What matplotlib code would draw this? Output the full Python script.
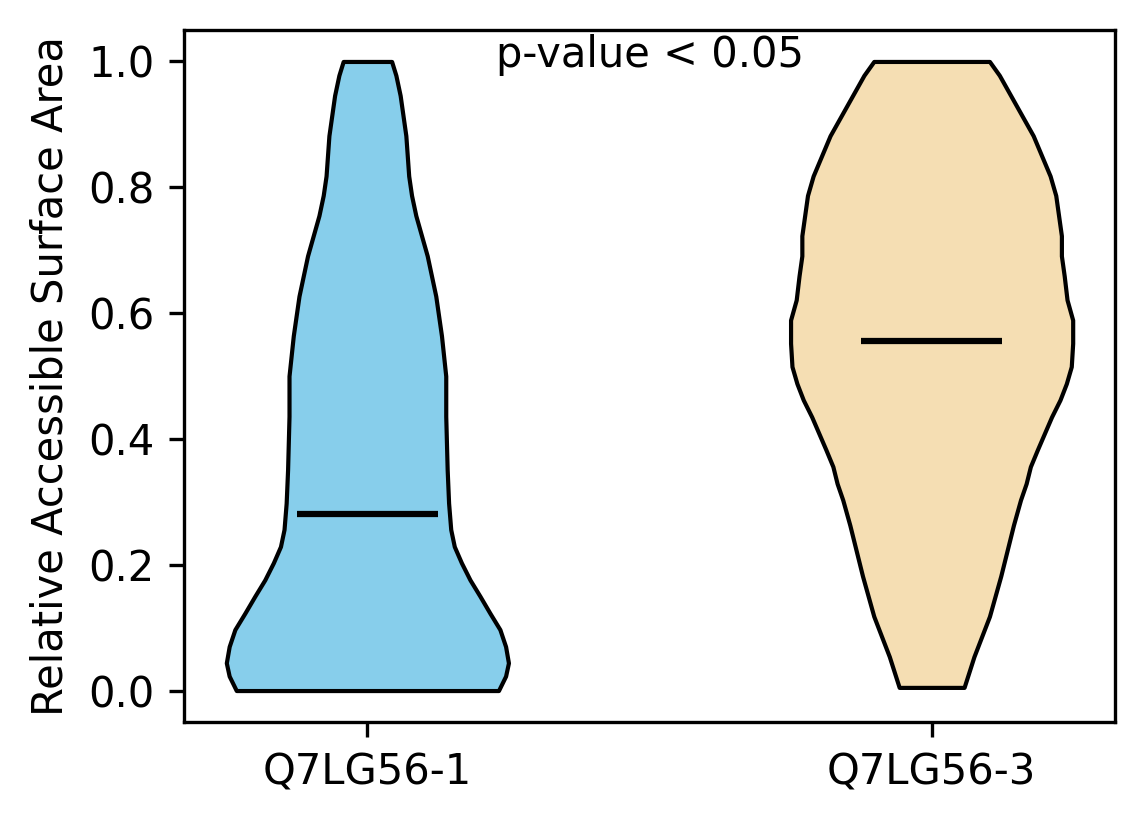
import numpy as np
import matplotlib.pyplot as plt

labels = ['Q7LG56-1', 'Q7LG56-3']
colors = ['skyblue', 'wheat']

# density profiles (value -> relative width)
left_coords = [0.0, 0.023, 0.044, 0.070, 0.097, 0.123, 0.150, 0.176, 0.203, 0.229,
               0.256, 0.298, 0.351, 0.436, 0.500, 0.564, 0.627, 0.691, 0.755, 0.787,
               0.818, 0.882, 0.946, 0.978, 1.0]
left_vals = [0.92, 0.97, 0.99, 0.97, 0.93, 0.86, 0.79, 0.72, 0.66, 0.61,
             0.585, 0.57, 0.56, 0.55, 0.55, 0.52, 0.48, 0.42, 0.34, 0.31,
             0.29, 0.27, 0.23, 0.20, 0.17]
left_mean = 0.28

right_coords = [0.005, 0.054, 0.118, 0.182, 0.263, 0.303, 0.329, 0.356, 0.383, 0.409,
                0.435, 0.462, 0.488, 0.515, 0.552, 0.589, 0.621, 0.659, 0.691, 0.723,
                0.755, 0.787, 0.818, 0.850, 0.882, 0.914, 0.946, 0.978, 1.0]
right_vals = [0.23, 0.30, 0.41, 0.49, 0.58, 0.63, 0.67, 0.70, 0.75, 0.80,
              0.85, 0.91, 0.955, 0.99, 1.0, 1.0, 0.96, 0.94, 0.92, 0.92,
              0.90, 0.88, 0.84, 0.78, 0.72, 0.64, 0.56, 0.48, 0.41]
right_mean = 0.556


def make_stats(coords, vals, mean):
    coords = np.array(coords)
    return {'coords': coords, 'vals': np.array(vals), 'mean': mean,
            'median': mean, 'min': coords.min(), 'max': coords.max()}


vpstats = [make_stats(left_coords, left_vals, left_mean),
           make_stats(right_coords, right_vals, right_mean)]

fig = plt.figure(figsize=(1144 / 300, 824 / 300), dpi=300)
ax = fig.add_axes([184 / 1144, 1 - 722 / 824, (1115 - 184) / 1144, (722 - 30) / 824])

parts = ax.violin(vpstats, positions=[1, 2], widths=0.5,
                  showmeans=True, showextrema=False, showmedians=False)
for body, c in zip(parts['bodies'], colors):
    body.set_facecolor(c)
    body.set_edgecolor('black')
    body.set_alpha(1)
    body.set_linewidth(1)
parts['cmeans'].set_color('black')
parts['cmeans'].set_linewidth(1.5)

ax.set_xticks([1, 2])
ax.set_xticklabels(labels)
ax.set_ylabel('Relative Accessible Surface Area')
ax.text(1.5, 1.01, 'p-value < 0.05', ha='center', va='center')

fig.savefig('out.png', dpi=300)
